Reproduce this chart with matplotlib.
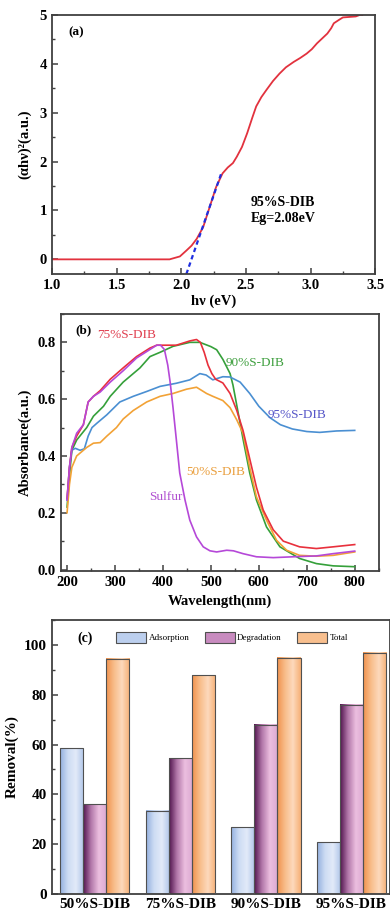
import numpy as np
import matplotlib
matplotlib.use("Agg")
import matplotlib.pyplot as plt
from matplotlib.colors import LinearSegmentedColormap
from matplotlib.patches import Patch
from matplotlib.ticker import MultipleLocator

plt.rcParams['font.family'] = ['Liberation Serif', 'DejaVu Serif']
plt.rcParams['font.weight'] = 'bold'

# (a) Tauc plot for 95%S-DIB
tauc_hv = [1.0, 1.5, 1.91, 1.99, 2.04, 2.08, 2.12, 2.17, 2.22, 2.27, 2.32, 2.36,
           2.40, 2.43, 2.47, 2.51, 2.55, 2.58, 2.62, 2.66, 2.71, 2.76, 2.81, 2.87,
           2.92, 2.97, 3.01, 3.05, 3.09, 3.13, 3.16, 3.18, 3.22, 3.25, 3.30, 3.35,
           3.38, 3.40]
tauc_val = [0, 0, 0, 0.06, 0.18, 0.28, 0.42, 0.66, 1.07, 1.48, 1.76, 1.88,
            1.97, 2.10, 2.30, 2.58, 2.90, 3.13, 3.32, 3.47, 3.65, 3.80, 3.93, 4.04,
            4.12, 4.21, 4.30, 4.42, 4.52, 4.62, 4.73, 4.83, 4.90, 4.95, 4.96, 4.97,
            5.00, 5.00]
fit_hv = [2.04, 2.31]
fit_val = [-0.3, 1.76]

# (b) UV-vis absorbance
s75_wl = [200, 205, 210, 220, 234, 244, 255, 269, 290, 317, 345, 373, 387, 400,
          428, 456, 470, 478, 486, 494, 502, 510, 525, 540, 554, 567, 581, 595,
          609, 630, 651, 685, 720, 755, 800]
s75 = [0.25, 0.36, 0.43, 0.47, 0.51, 0.59, 0.61, 0.63, 0.67, 0.71, 0.75, 0.78,
       0.79, 0.79, 0.79, 0.805, 0.81, 0.80, 0.765, 0.72, 0.69, 0.67, 0.657, 0.62,
       0.56, 0.49, 0.39, 0.29, 0.21, 0.14, 0.10, 0.08, 0.074, 0.08, 0.088]
s90_wl = [200, 205, 210, 220, 241, 255, 276, 290, 317, 352, 373, 394, 421, 456,
          477, 500, 512, 525, 540, 546, 556, 567, 581, 595, 616, 644, 685, 720,
          755, 800]
s90 = [0.22, 0.33, 0.42, 0.456, 0.50, 0.54, 0.575, 0.61, 0.66, 0.71, 0.75,
       0.765, 0.786, 0.80, 0.80, 0.785, 0.774, 0.74, 0.69, 0.65, 0.56, 0.46,
       0.34, 0.245, 0.15, 0.08, 0.039, 0.021, 0.013, 0.01]
s95_wl = [200, 205, 210, 217, 227, 236, 244, 252, 262, 283, 310, 338, 366, 394,
          428, 456, 477, 490, 504, 525, 540, 561, 581, 600, 623, 645, 670, 700,
          727, 762, 800]
s95 = [0.245, 0.36, 0.42, 0.427, 0.42, 0.425, 0.47, 0.50, 0.515, 0.545, 0.59,
       0.61, 0.627, 0.645, 0.656, 0.668, 0.69, 0.685, 0.668, 0.679, 0.678, 0.66,
       0.62, 0.575, 0.535, 0.51, 0.495, 0.486, 0.483, 0.488, 0.49]
s50_wl = [200, 205, 210, 220, 241, 255, 269, 283, 303, 317, 338, 366, 394, 421,
          449, 470, 491, 504, 525, 540, 554, 567, 581, 595, 616, 637, 658, 685,
          720, 755, 800]
s50 = [0.20, 0.30, 0.36, 0.40, 0.43, 0.445, 0.447, 0.47, 0.50, 0.53, 0.56, 0.59,
       0.61, 0.62, 0.635, 0.642, 0.62, 0.61, 0.595, 0.57, 0.527, 0.48, 0.36,
       0.256, 0.174, 0.103, 0.068, 0.05, 0.047, 0.05, 0.062]
sul_wl = [200, 205, 210, 220, 234, 244, 255, 269, 290, 317, 345, 373, 387, 395,
          403, 410, 415, 421, 428, 435, 446, 456, 470, 484, 498, 512, 533, 547,
          567, 595, 630, 672, 720, 755, 800]
sul = [0.245, 0.36, 0.43, 0.48, 0.51, 0.59, 0.61, 0.625, 0.66, 0.70, 0.745,
       0.775, 0.79, 0.79, 0.775, 0.72, 0.66, 0.57, 0.456, 0.34, 0.245, 0.174,
       0.115, 0.08, 0.066, 0.062, 0.068, 0.066, 0.056, 0.045, 0.042, 0.045,
       0.048, 0.056, 0.065]

# (c) removal
samples = ['50%S-DIB', '75%S-DIB', '90%S-DIB', '95%S-DIB']
adsorption = [58.5, 33.5, 26.8, 20.8]
degradation = [36.0, 54.5, 68.0, 76.0]
total = [94.5, 87.8, 94.8, 96.8]

frame = '#404040'


def style(ax):
    for s in ax.spines.values():
        s.set_color(frame)
        s.set_linewidth(1.3)
    ax.tick_params(which='both', direction='in', color=frame, labelsize=10.5,
                   top=False, right=False)
    ax.tick_params(which='major', length=4, width=1.1)
    ax.tick_params(which='minor', length=2, width=1.0)


fig = plt.figure(figsize=(3.9, 9.14), dpi=100)

# ---- (a)
ax1 = fig.add_axes([0.133, 0.7002, 0.829, 0.2834])
ax1.plot(tauc_hv, tauc_val, color='#e2323e', lw=1.3)
ax1.plot(fit_hv, fit_val, color='#1f2fe0', lw=1.6, ls=(0, (2, 1.5)))
ax1.set_xlim(1.0, 3.5)
ax1.set_ylim(-0.3, 5.0)
ax1.xaxis.set_major_locator(MultipleLocator(0.5))
ax1.xaxis.set_minor_locator(MultipleLocator(0.25))
ax1.yaxis.set_major_locator(MultipleLocator(1))
ax1.yaxis.set_minor_locator(MultipleLocator(0.5))
ax1.xaxis.set_major_formatter(lambda v, p: f'{v:.1f}')
style(ax1)
ax1.set_xlabel('hν (eV)', fontsize=10.5, fontweight='bold', labelpad=2)
ax1.set_ylabel('(αhν)²(a.u.)', fontsize=10.5, fontweight='bold', labelpad=6)
ax1.text(0.05, 0.955, '(a)', transform=ax1.transAxes, fontsize=9.5, va='top')
ax1.text(0.715, 0.245, '95%S-DIB\nEg=2.08eV', transform=ax1.transAxes,
         fontsize=10, ha='center', va='center', linespacing=1.3)

# ---- (b)
ax2 = fig.add_axes([0.156, 0.3753, 0.815, 0.2812])
ax2.plot(s75_wl, s75, color='#e8303c', lw=1.2, zorder=3)
ax2.plot(s90_wl, s90, color='#35a03a', lw=1.2, zorder=2)
ax2.plot(s95_wl, s95, color='#4a8fd2', lw=1.2, zorder=2)
ax2.plot(s50_wl, s50, color='#f2a236', lw=1.2, zorder=2)
ax2.plot(sul_wl, sul, color='#b548d8', lw=1.2, zorder=3)
ax2.set_xlim(187, 850)
ax2.set_ylim(-0.005, 0.9)
ax2.xaxis.set_major_locator(MultipleLocator(100))
ax2.xaxis.set_minor_locator(MultipleLocator(50))
ax2.yaxis.set_major_locator(MultipleLocator(0.2))
ax2.yaxis.set_minor_locator(MultipleLocator(0.1))
ax2.yaxis.set_major_formatter(lambda v, p: f'{v:.1f}')
style(ax2)
ax2.set_xlabel('Wavelength(nm)', fontsize=10.5, fontweight='bold', labelpad=4)
ax2.set_ylabel('Absorbance(a.u.)', fontsize=10.5, fontweight='bold', labelpad=4)
ax2.text(0.045, 0.96, '(b)', transform=ax2.transAxes, fontsize=9.5, va='top')
lab_kw = dict(fontsize=9.5, fontweight='normal', ha='center', va='center')
ax2.text(325, 0.825, '75%S-DIB', color='#e04050', **lab_kw)
ax2.text(592, 0.728, '90%S-DIB', color='#40a040', **lab_kw)
ax2.text(680, 0.545, '95%S-DIB', color='#5656c8', **lab_kw)
ax2.text(510, 0.343, '50%S-DIB', color='#eaa040', **lab_kw)
ax2.text(406, 0.255, 'Sulfur', color='#b050d0', **lab_kw)

# ---- (c)
ax3 = fig.add_axes([0.133, 0.0219, 0.867, 0.2998])
x = np.arange(len(samples))
w = 0.27
cmaps = [
    LinearSegmentedColormap.from_list('ads', ['#94b0df', '#cddcf3', '#e2eaf9', '#b0c6e9']),
    LinearSegmentedColormap.from_list('deg', ['#52144e', '#b278aa', '#ecbedf', '#dcaad2']),
    LinearSegmentedColormap.from_list('tot', ['#f0924e', '#f8bd8a', '#fdd9bc', '#f6b076']),
]
mids = ['#bccfee', '#c88bbf', '#f8bf8e']
grad = np.linspace(0, 1, 64).reshape(1, -1)
for i, (vals, cm) in enumerate(zip([adsorption, degradation, total], cmaps)):
    bars = ax3.bar(x + (i - 1) * w, vals, w, facecolor='none',
                   edgecolor='#505050', lw=0.8, zorder=3)
    for p in bars:
        x0, y0 = p.get_x(), p.get_y()
        ax3.imshow(grad, extent=[x0, x0 + p.get_width(), y0, y0 + p.get_height()],
                   aspect='auto', cmap=cm, zorder=2)
ax3.set_xlim(-0.5, 3.45)
ax3.set_ylim(0, 110)
ax3.set_xticks(x)
ax3.set_xticklabels(samples, fontsize=11)
ax3.yaxis.set_major_locator(MultipleLocator(20))
ax3.yaxis.set_minor_locator(MultipleLocator(10))
style(ax3)
ax3.tick_params(axis='x', length=0, labelsize=11, pad=3)
ax3.tick_params(axis='y', labelsize=11)
ax3.set_ylabel('Removal(%)', fontsize=11, fontweight='bold', labelpad=4)
ax3.text(0.075, 0.935, '(c)', transform=ax3.transAxes, fontsize=10, va='center')
handles = [Patch(facecolor=c, edgecolor='#505050', lw=0.8) for c in mids]
leg = ax3.legend(handles, ['Adsorption', 'Degradation', 'Total'],
                 loc='center left', bbox_to_anchor=(0.19, 0.937), ncol=3,
                 frameon=False,
                 prop={'family': 'Liberation Serif', 'size': 6.5, 'weight': 'normal'},
                 handlelength=3.3, handleheight=1.45, handletextpad=0.3,
                 columnspacing=1.7, borderaxespad=0, borderpad=0)

fig.savefig('out.png', dpi=100)
